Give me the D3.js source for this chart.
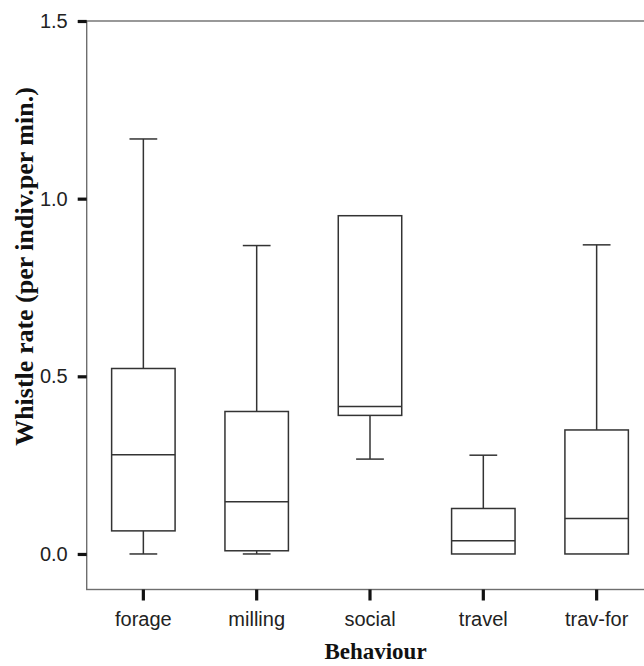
<!DOCTYPE html>
<html>
<head>
<meta charset="utf-8">
<script src="https://cdn.jsdelivr.net/npm/d3@7"></script>
<style>
  body { margin: 0; background: #fff; }
  svg { display: block; }
</style>
</head>
<body>
<svg id="chart" width="644" height="666"></svg>
<script>
// box summaries
const behaviours = ["forage", "milling", "social", "travel", "trav-for"];
const mins    = [0.000, 0.000, 0.267, 0.000, 0.000];
const q1s     = [0.065, 0.009, 0.390, 0.000, 0.000];
const medians = [0.279, 0.147, 0.415, 0.037, 0.100];
const q3s     = [0.522, 0.401, 0.952, 0.128, 0.349];
const maxs    = [1.168, 0.868, 0.952, 0.278, 0.870];
const yTicks  = [0.0, 0.5, 1.0, 1.5];

const boxes = behaviours.map((b, i) => ({
  name: b, min: mins[i], q1: q1s[i], med: medians[i], q3: q3s[i], max: maxs[i]
}));

const svg = d3.select("#chart");
const plotL = 86.7, plotR = 653.3, plotT = 21, plotB = 589.5;

const x = d3.scaleBand().domain(behaviours).range([plotL, plotR]).padding(0);
const y = d3.scaleLinear().domain([-0.1, 1.5]).range([plotB, plotT]);

const boxW = x.bandwidth() * 0.56;
const capW = x.bandwidth() * 0.245;
const cx = d => x(d.name) + x.bandwidth() / 2;

// frame
svg.append("rect")
  .attr("x", plotL).attr("y", plotT)
  .attr("width", plotR - plotL).attr("height", plotB - plotT)
  .attr("fill", "none").attr("stroke", "#6e6e6e").attr("stroke-width", 1.4);

// y axis
const yAxis = svg.append("g")
  .attr("transform", `translate(${plotL},0)`)
  .call(d3.axisLeft(y).tickValues(yTicks).tickFormat(d3.format(".1f")).tickSize(9).tickPadding(10));
yAxis.select(".domain").remove();
yAxis.selectAll(".tick line").style("stroke", "#111").style("stroke-width", "3.2px");
yAxis.selectAll(".tick text")
  .attr("font-family", "'Liberation Sans', Arial, sans-serif")
  .attr("font-size", 20).attr("fill", "#222");

// x axis
const xAxis = svg.append("g")
  .attr("transform", `translate(0,${plotB})`)
  .call(d3.axisBottom(x).tickSize(11).tickPadding(11));
xAxis.select(".domain").remove();
xAxis.selectAll(".tick line").style("stroke", "#111").style("stroke-width", "3.2px");
xAxis.selectAll(".tick text")
  .attr("font-family", "'Liberation Sans', Arial, sans-serif")
  .attr("font-size", 20).attr("fill", "#222");

// boxes
const g = svg.append("g").selectAll("g").data(boxes).enter().append("g")
  .attr("stroke", "#333").attr("stroke-width", 1.5).attr("fill", "none");

// whiskers
g.filter(d => d.max > d.q3).append("line")
  .attr("x1", cx).attr("x2", cx)
  .attr("y1", d => y(d.q3)).attr("y2", d => y(d.max));
g.filter(d => d.max > d.q3).append("line")
  .attr("x1", d => cx(d) - capW / 2).attr("x2", d => cx(d) + capW / 2)
  .attr("y1", d => y(d.max)).attr("y2", d => y(d.max));
g.filter(d => d.min < d.q1).append("line")
  .attr("x1", cx).attr("x2", cx)
  .attr("y1", d => y(d.q1)).attr("y2", d => y(d.min));
g.filter(d => d.min < d.q1).append("line")
  .attr("x1", d => cx(d) - capW / 2).attr("x2", d => cx(d) + capW / 2)
  .attr("y1", d => y(d.min)).attr("y2", d => y(d.min));

g.append("rect")
  .attr("x", d => cx(d) - boxW / 2)
  .attr("y", d => y(d.q3))
  .attr("width", boxW)
  .attr("height", d => y(d.q1) - y(d.q3))
  .attr("fill", "#fff");

g.append("line")
  .attr("x1", d => cx(d) - boxW / 2).attr("x2", d => cx(d) + boxW / 2)
  .attr("y1", d => y(d.med)).attr("y2", d => y(d.med));

// axis titles
svg.append("text")
  .attr("transform", "translate(33,266.5) rotate(-90)")
  .attr("text-anchor", "middle")
  .attr("font-family", "'Liberation Serif', 'Times New Roman', serif")
  .attr("font-weight", "bold").attr("font-size", 26).attr("fill", "#111")
  .text("Whistle rate (per indiv.per min.)");

svg.append("text")
  .attr("x", 375.5).attr("y", 659)
  .attr("text-anchor", "middle")
  .attr("font-family", "'Liberation Serif', 'Times New Roman', serif")
  .attr("font-weight", "bold").attr("font-size", 23).attr("fill", "#111")
  .text("Behaviour");
</script>
</body>
</html>
